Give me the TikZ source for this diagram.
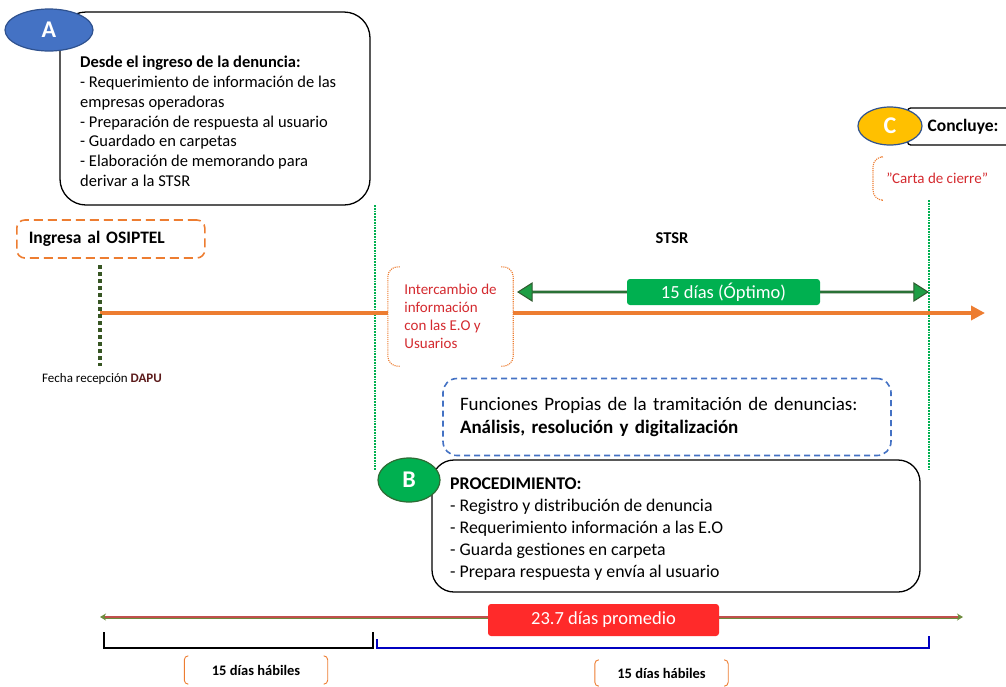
\documentclass[tikz,border=0pt]{standalone}
\usepackage{fontspec}
\setmainfont{Carlito}
\usepackage{xcolor}
\usetikzlibrary{arrows.meta,positioning,shapes.geometric,shapes.arrows,calc}

\definecolor{ablue}{HTML}{4472C4}
\definecolor{abluedark}{HTML}{2F528F}
\definecolor{bgreen}{HTML}{00B050}
\definecolor{bgreendark}{HTML}{2E6B34}
\definecolor{cyellow}{HTML}{FFC000}
\definecolor{orline}{HTML}{ED7D31}
\definecolor{darkdot}{HTML}{375623}
\definecolor{redtxt}{HTML}{D42A2F}
\definecolor{dapu}{HTML}{5B1A1A}
\definecolor{optarrow}{HTML}{1E9E45}
\definecolor{optedge}{HTML}{2F5A2F}
\definecolor{promred}{HTML}{FF2A2A}
\definecolor{brkblue}{HTML}{0000C0}
\definecolor{totgreen}{HTML}{6E8B3D}
\definecolor{totred}{HTML}{C0504D}

\begin{document}
\begin{tikzpicture}[
  x=1pt, y=-1pt,
  every node/.style={font=\fontsize{16.5}{19.8}\selectfont},
  roundbox/.style={draw, line width=1.3pt, rounded corners=26pt},
  badge/.style={ellipse, line width=1.2pt, text=white, font=\fontsize{24}{26}\selectfont\bfseries},
  orbrak/.style={draw=orline, densely dotted, line width=1.1pt, rounded corners=10pt},
  parbrak/.style={draw=orline, line width=0.9pt, rounded corners=4pt},
  limit/.style={draw=bgreen, densely dotted, line width=1.8pt},
  habiles/.style={font=\fontsize{14.5}{16}\selectfont\bfseries}
]
\useasboundingbox (0,0) rectangle (1006,686);

% STSR limits
\coordinate (s0) at (375,205);
\coordinate (s1) at (375,470);
\coordinate (e0) at (929,200);
\coordinate (e1) at (929,470);
\draw[limit] (s0) -- (s1);
\draw[limit] (e0) -- (e1);

% Time line
\coordinate (t0) at (100,313);
\coordinate (t1) at (985,313);
\draw[orline, line width=3.5pt, -{Triangle[length=14pt,width=14pt]}] (t0) -- (t1);

% Entry mark
\coordinate (m0) at (100,265);
\coordinate (m1) at (100,366);
\draw[darkdot, line width=4pt, dash pattern=on 4pt off 3pt] (m0) -- (m1);
\node[anchor=north, font=\fontsize{13}{15}\selectfont] (fecha) at (102,370)
  {Fecha recepción \textbf{\color{dapu}DAPU}};

% Box A
\node[roundbox, minimum width=310, minimum height=193] (boxA) at (215,108.5) {};
\node[anchor=north west, align=left, inner sep=0] (txtA) at (80,56)
  {\textbf{Desde el ingreso de la denuncia:}\\
   - Requerimiento de información de las\\
   empresas operadoras\\
   - Preparación de respuesta al usuario\\
   - Guardado en carpetas\\
   - Elaboración de memorando para\\
   derivar a la STSR};
\node[badge, fill=ablue, draw=abluedark, minimum width=88, minimum height=42] (circA) at (49,30) {A};

% Ingresa
\node[anchor=west, draw=orline, dash pattern=on 9pt off 5pt, line width=1.6pt, rounded corners=8pt,
      inner xsep=12pt, text width=164pt, align=left, minimum height=38,
      font=\fontsize{17.5}{19}\selectfont\bfseries]
  (ingresa) at (16,239) {Ingresa al OSIPTEL};

\node[font=\fontsize{16.5}{19}\selectfont\bfseries] (stsr) at (672,238) {STSR};

% Intercambio
\node[fill=white, text=redtxt, align=left, minimum width=125, minimum height=99,
      font=\fontsize{15}{18}\selectfont] (interc) at (450.5,316.5)
  {Intercambio de\\información\\con las E.O y\\Usuarios};
\draw[orbrak] ([xshift=12pt]interc.north west) -- (interc.north west) -- (interc.south west) -- ([xshift=12pt]interc.south west);
\draw[orbrak] ([xshift=-12pt]interc.north east) -- (interc.north east) -- (interc.south east) -- ([xshift=-12pt]interc.south east);

% Optimum window
\node[double arrow, draw=optedge, fill=optarrow, line width=1pt, inner sep=0,
      minimum height=410, minimum width=18, double arrow head extend=5pt,
      double arrow tip angle=65] (optarr) at (723,292) {};
\node[fill=bgreen, rounded corners=3pt, minimum width=193, minimum height=26, text=white,
      font=\fontsize{18.5}{20}\selectfont] (optimo) at (723.5,292) {15 días (Óptimo)};

% Funciones
\node[draw=ablue, dash pattern=on 6pt off 4pt, line width=1.6pt, rounded corners=14pt,
      minimum height=77, inner xsep=17pt, text width=414pt, align=left,
      font=\fontsize{19}{23}\selectfont] (funciones) at (667,417)
  {Funciones Propias de la tramitación de denuncias:\\
   \textbf{Análisis, resolución y digitalización}};

% Box B
\node[roundbox, rounded corners=22pt, minimum width=488, minimum height=132] (boxB) at (676,526) {};
\node[anchor=north west, align=left, inner sep=0, font=\fontsize{17.8}{22}\selectfont] (txtB) at (450,478)
  {\textbf{PROCEDIMIENTO:}\\
   - Registro y distribución de denuncia\\
   - Requerimiento información a las E.O\\
   - Guarda gestiones en carpeta\\
   - Prepara respuesta y envía al usuario};
\node[badge, fill=bgreen, draw=bgreendark, minimum width=62, minimum height=44] (circB) at (409,480) {B};

% Box C
\node[anchor=west, draw, line width=1.3pt, rounded corners=3pt, minimum height=37,
      inner xsep=20pt, text width=100pt, align=left, font=\fontsize{17.5}{19}\selectfont\bfseries]
  (boxC) at (907,126.5) {Concluye:};
\node[badge, fill=cyellow, draw=abluedark, minimum width=64, minimum height=38] (circC) at (890,126) {C};

\node[anchor=west, text=redtxt, minimum width=128, minimum height=43,
      font=\fontsize{15}{17}\selectfont] (carta) at (873,178.5) {"Carta de cierre"};
\draw[orbrak] ([xshift=8pt]carta.north west) -- (carta.north west) -- (carta.south west) -- ([xshift=8pt]carta.south west);

% Total time
\coordinate (b0) at (100,617);
\coordinate (b1) at (963,617);
\draw[totgreen, line width=3pt, {Stealth[length=6pt,width=7pt]}-{Stealth[length=6pt,width=7pt]}] (b0) -- (b1);
\draw[totred, line width=1.2pt, shorten <=5pt, shorten >=5pt] (b0) -- (b1);
\node[fill=promred, rounded corners=3pt, minimum width=231, minimum height=32, text=white,
      font=\fontsize{18.5}{20}\selectfont] (promedio) at (603.5,620) {23.7 días promedio};

% Brackets
\draw[line width=2pt] (104,632) |- (373,648) -- (373,632);
\draw[brkblue, line width=2pt] (377,639) |- (929,648) -- (929,636);

\node[habiles, minimum width=143, minimum height=28] (habA) at (256,670) {15 días hábiles};
\draw[parbrak] ([xshift=4pt]habA.north west) -- (habA.north west) -- (habA.south west) -- ([xshift=4pt]habA.south west);
\draw[parbrak] ([xshift=-4pt]habA.north east) -- (habA.north east) -- (habA.south east) -- ([xshift=-4pt]habA.south east);
\node[habiles, minimum width=133, minimum height=26] (habB) at (661.5,673) {15 días hábiles};
\draw[parbrak] ([xshift=4pt]habB.north west) -- (habB.north west) -- (habB.south west) -- ([xshift=4pt]habB.south west);
\draw[parbrak] ([xshift=-4pt]habB.north east) -- (habB.north east) -- (habB.south east) -- ([xshift=-4pt]habB.south east);

\end{tikzpicture}
\end{document}
